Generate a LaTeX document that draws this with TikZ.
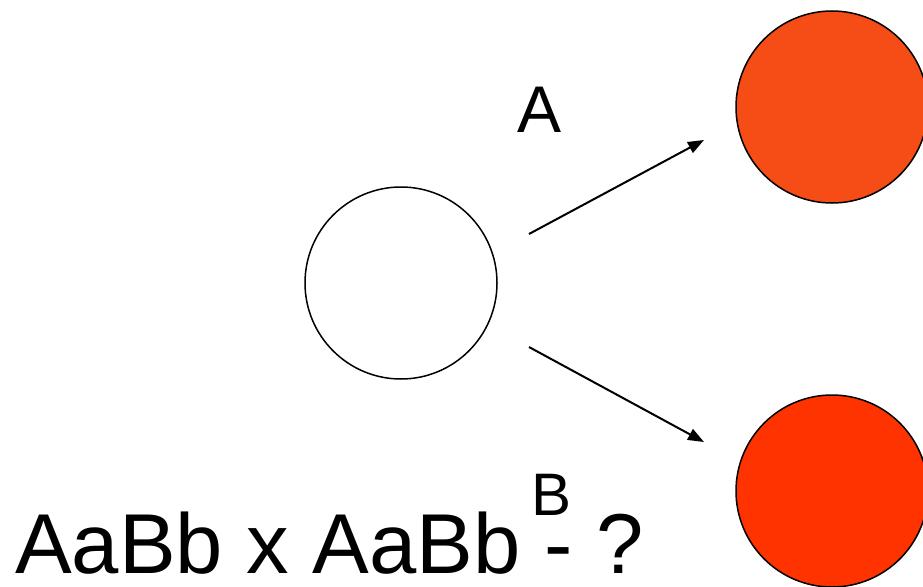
\documentclass[tikz,border=0pt]{standalone}
\usepackage{fontspec}
\setmainfont{Liberation Sans}
\usetikzlibrary{arrows.meta}
\definecolor{topred}{RGB}{246,76,22}
\definecolor{botred}{RGB}{255,51,0}
\tikzset{
  cell/.style={circle, draw=black, line width=1.5pt, minimum size=192pt, inner sep=0pt},
  arr/.style={line width=2pt, -{Triangle[length=16pt,width=12pt]}},
  lbl/.style={inner sep=0pt, anchor=base west, text=black}
}
\begin{document}
\begin{tikzpicture}[x=1pt,y=-1pt]
\useasboundingbox (0,0) rectangle (923,586);
\clip (0,0) rectangle (923,586);
\fill[white] (0,0) rectangle (923,586);
\node[cell, fill=white] (mid) at (401,283) {};
\node[cell, fill=topred] (top) at (832,107) {};
\node[cell, fill=botred] (bot) at (832,491) {};
\coordinate (s1) at (529,234);
\coordinate (e1) at (704,140);
\coordinate (s2) at (529,347);
\coordinate (e2) at (704,442);
\draw[arr] (s1) -- (e1);
\draw[arr] (s2) -- (e2);
\node[lbl, font=\fontsize{66}{66}\selectfont] (la) at (517,132) {A};
\node[lbl, font=\fontsize{60}{60}\selectfont] (lb) at (531,515) {B};
\node[lbl, font=\fontsize{85}{85}\selectfont] (eq) at (15,573) {AaBb x AaBb - ?};
\end{tikzpicture}
\end{document}
